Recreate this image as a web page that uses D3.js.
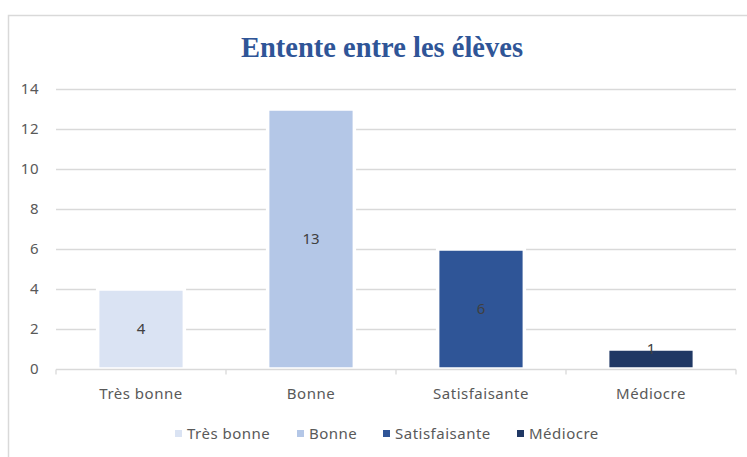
<!DOCTYPE html>
<html><head><meta charset="utf-8">
<script src="https://cdn.jsdelivr.net/npm/d3@7"></script>
<style>body{margin:0;background:#fff}svg{display:block}</style>
</head><body>
<svg id="c" width="747" height="457"></svg>
<script>
const categories = ["Très bonne", "Bonne", "Satisfaisante", "Médiocre"];
const values = [4, 13, 6, 1];
const colors = ["#DAE3F3", "#B4C7E7", "#2F5597", "#203864"];
const yTicks = [0, 2, 4, 6, 8, 10, 12, 14];
const title = "Entente entre les élèves";

const FONT = "Noto Sans, Open Sans, sans-serif";
const FS = 15;
const LS = 0.5;
const svg = d3.select("#c");
svg.append("rect").attr("x", 8.5).attr("y", 15.5).attr("width", 760).attr("height", 460)
  .attr("fill", "#fff").attr("stroke", "#D9D9D9").attr("stroke-width", 1.5);

const x = d3.scaleBand().domain(categories).range([56, 736]).paddingInner(0.49).paddingOuter(0.245);
const y = d3.scaleLinear().domain([0, 14]).range([369, 89]);

svg.append("text").attr("x", 382).attr("y", 57).attr("text-anchor", "middle")
  .attr("font-family", "Liberation Serif, Times New Roman, serif").attr("font-weight", "bold")
  .attr("font-size", 28.5).attr("fill", "#2F5597").text(title);

// gridlines
svg.append("g").selectAll("line").data(yTicks.filter(t => t > 0)).join("line")
  .attr("x1", 56).attr("x2", 736).attr("y1", d => Math.round(y(d)) + 0.5).attr("y2", d => Math.round(y(d)) + 0.5)
  .attr("stroke", "#D9D9D9").attr("stroke-width", 1.3);

// y labels
svg.append("g").selectAll("text").data(yTicks).join("text")
  .attr("x", 39).attr("y", d => y(d)).attr("dy", "0.35em").attr("text-anchor", "end")
  .attr("font-family", FONT).attr("font-size", FS).attr("letter-spacing", LS).attr("fill", "#595959")
  .text(d => d);

// bars
svg.append("g").selectAll("rect").data(values).join("rect")
  .attr("x", (d, i) => x(categories[i])).attr("width", x.bandwidth())
  .attr("y", d => y(d)).attr("height", d => y(0) - y(d))
  .attr("fill", (d, i) => colors[i]).attr("stroke", "#fff").attr("stroke-width", 3.5);

// x axis
const xAxis = d3.axisBottom(x).tickSize(0).tickPadding(19);
const gx = svg.append("g").attr("transform", "translate(0,369.5)").call(xAxis);
gx.select(".domain").attr("stroke", "#D9D9D9").attr("stroke-width", 1.3).attr("d", "M56,0H736");
gx.selectAll("text").attr("font-family", FONT).attr("font-size", FS).attr("letter-spacing", LS).attr("fill", "#595959");
const bounds = [56].concat(categories.map(c => x(c) + x.bandwidth() + x.step() * x.paddingInner() / 2));
bounds[bounds.length - 1] = 736;
gx.selectAll(".bnd").data(bounds).join("line").attr("class", "bnd")
  .attr("x1", d => d).attr("x2", d => d).attr("y1", 0).attr("y2", 5)
  .attr("stroke", "#D9D9D9").attr("stroke-width", 1.3);

// data labels
svg.append("g").selectAll("text").data(values).join("text")
  .attr("x", (d, i) => x(categories[i]) + x.bandwidth() / 2)
  .attr("y", d => (y(0) - y(d)) < 30 ? y(d) : (y(0) + y(d)) / 2)
  .attr("dy", "0.35em").attr("text-anchor", "middle")
  .attr("font-family", FONT).attr("font-size", FS).attr("fill", "#404040")
  .text(d => d);

// legend
const legendX = [175, 297, 383, 517];
const lg = svg.append("g").selectAll("g").data(categories).join("g")
  .attr("transform", (d, i) => `translate(${legendX[i]},434)`);
lg.append("rect").attr("x", 0).attr("y", -4).attr("width", 7).attr("height", 7).attr("fill", (d, i) => colors[i]);
lg.append("text").attr("x", 12).attr("y", 0).attr("dy", "0.35em")
  .attr("font-family", FONT).attr("font-size", FS).attr("letter-spacing", LS).attr("fill", "#595959")
  .text(d => d);
</script>
</body></html>
